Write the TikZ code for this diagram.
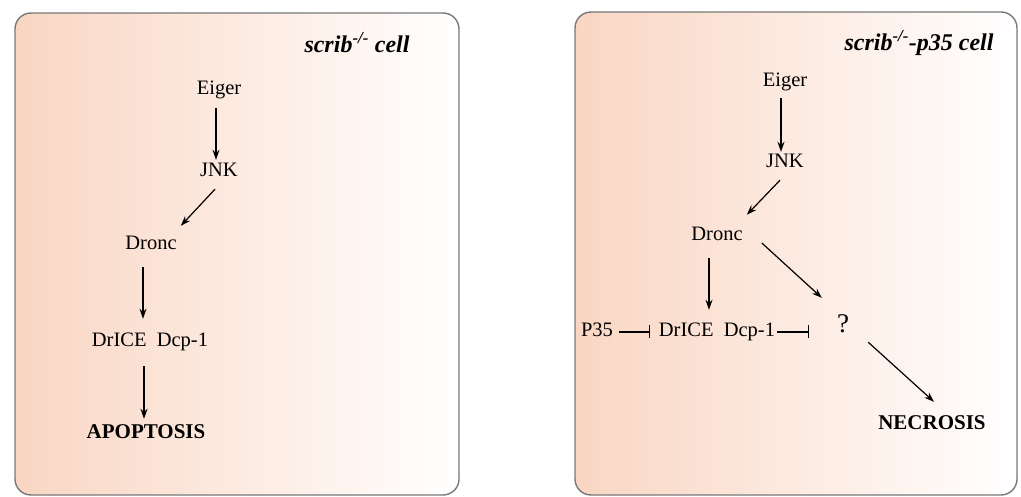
\documentclass[tikz,border=0pt]{standalone}
\usepackage{fontspec}
\setmainfont{Liberation Serif}
\usetikzlibrary{arrows.meta}
\definecolor{peach}{RGB}{249,214,195}
\definecolor{framegray}{RGB}{120,120,120}
\begin{document}
\begin{tikzpicture}[x=1pt,y=-1pt,
  lbl/.style={font=\fontsize{20.5}{22}\selectfont, inner sep=2pt, text height=14pt, text depth=4pt},
  outc/.style={font=\fontsize{21}{23}\selectfont\bfseries, inner sep=2pt, text height=14pt, text depth=4pt},
  ttl/.style={font=\fontsize{24}{26}\selectfont\bfseries\itshape, inner sep=0pt},
  act/.style={-{Stealth[length=10pt,width=7pt]}, line width=1.2pt},
  inh/.style={-{Bar[width=13pt]}, line width=1.2pt},
  cellbox/.style={draw=framegray, line width=1.4pt, rounded corners=16pt, left color=peach, right color=white}]
\useasboundingbox (0,0) rectangle (1021,497);
% boxes
\path[cellbox] (15,13) rectangle (459,495);
\path[cellbox] (575,12) rectangle (1017,495);
% left panel
\node[ttl] (t1) at (357,43) {scrib\textsuperscript{-/-} cell};
\node[lbl] (e1) at (219,90) {Eiger};
\node[lbl] (j1) at (219,172) {JNK};
\node[lbl] (d1) at (151,245) {Dronc};
\node[lbl] (c1) at (150,342) {DrICE\ \ Dcp-1};
\node[outc] (a1) at (146,433) {APOPTOSIS};
\draw[act] ([shift={(-3,7)}]e1.south) -- ([shift={(-3,-1)}]j1.north);
\draw[act] ([shift={(-4,6)}]j1.south) -- ([shift={(2,-8)}]d1.north east);
\draw[act] ([shift={(-8,11)}]d1.south) -- ([shift={(-7,-12)}]c1.north);
\draw[act] ([shift={(-6,13)}]c1.south) -- ([shift={(-2,-3)}]a1.north);
% right panel
\node[ttl] (t2) at (919,43) {scrib\textsuperscript{-/-}-p35 cell};
\node[lbl] (e2) at (785,82) {Eiger};
\node[lbl] (j2) at (785,163) {JNK};
\node[lbl] (d2) at (717,236) {Dronc};
\node[lbl] (p35) at (597,332) {P35};
\node[lbl] (c2) at (717,332) {DrICE\ \ Dcp-1};
\node[lbl, font=\fontsize{27}{29}\selectfont, text height=19pt, text depth=1pt] (q) at (843,324) {?};
\node[outc] (n2) at (932,424) {NECROSIS};
\coordinate (inhend) at (809,332);
\draw[act] ([shift={(-4,5)}]e2.south) -- ([shift={(-4,0)}]j2.north);
\draw[act] ([shift={(-5,6)}]j2.south) -- ([shift={(2,-10)}]d2.north east);
\draw[act] ([shift={(-8,11)}]d2.south) -- ([shift={(-8,-11)}]c2.north);
\draw[act] ([shift={(17,7)}]d2.east) -- ([shift={(-13,-14)}]q.north west);
\draw[act] ([shift={(17,6)}]q.south east) -- ([shift={(2,-11)}]n2.north);
\draw[inh] ([xshift=4]p35.east) -- ([xshift=-7]c2.west);
\draw[inh] (c2.east) -- (inhend);
\end{tikzpicture}
\end{document}
